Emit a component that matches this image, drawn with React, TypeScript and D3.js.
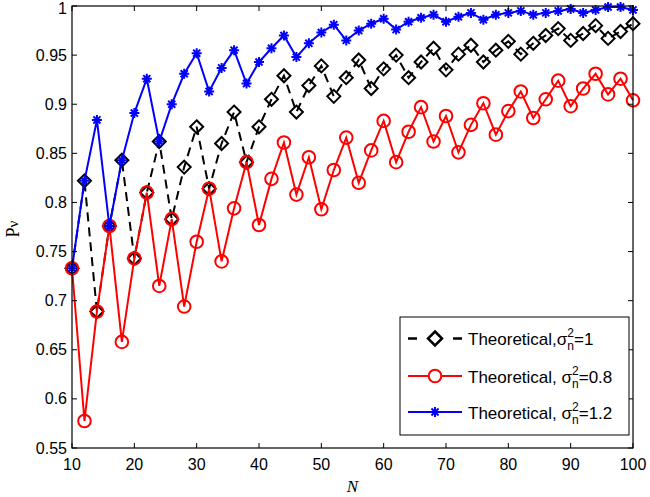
import React from "react";
import * as d3 from "d3";

const nValues = [10,12,14,16,18,20,22,24,26,28,30,32,34,36,38,40,42,44,46,48,50,52,54,56,58,60,62,64,66,68,70,72,74,76,78,80,82,84,86,88,90,92,94,96,98,100];

const blackSeries = [0.733,0.822,0.689,0.776,0.843,0.743,0.810,0.862,0.783,0.836,0.877,0.814,0.860,0.892,0.841,0.877,0.905,0.929,0.892,0.919,0.939,0.908,0.927,0.945,0.916,0.936,0.950,0.927,0.943,0.957,0.935,0.951,0.960,0.943,0.955,0.964,0.951,0.962,0.970,0.977,0.965,0.972,0.980,0.967,0.974,0.982];

const redSeries = [0.733,0.5775,0.689,0.776,0.658,0.743,0.810,0.715,0.783,0.694,0.760,0.814,0.740,0.794,0.841,0.777,0.824,0.861,0.808,0.846,0.793,0.833,0.866,0.820,0.853,0.883,0.841,0.872,0.897,0.862,0.888,0.851,0.879,0.901,0.869,0.893,0.913,0.886,0.905,0.924,0.898,0.916,0.931,0.910,0.926,0.904];

const blueSeries = [0.733,0.822,0.884,0.776,0.843,0.891,0.926,0.862,0.900,0.931,0.952,0.913,0.937,0.955,0.921,0.943,0.957,0.970,0.948,0.962,0.973,0.981,0.965,0.975,0.982,0.987,0.976,0.984,0.988,0.991,0.984,0.989,0.993,0.986,0.991,0.993,0.995,0.991,0.993,0.995,0.997,0.993,0.996,0.999,0.999,0.996];

const xTicks = [10,20,30,40,50,60,70,80,90,100];
const yTicks = [0.55,0.6,0.65,0.7,0.75,0.8,0.85,0.9,0.95,1];
const yTickLabels = ["0.55","0.6","0.65","0.7","0.75","0.8","0.85","0.9","0.95","1"];
const legendLabels = [
  { prefix: "Theoretical,σ", suffix: "=1" },
  { prefix: "Theoretical, σ", suffix: "=0.8" },
  { prefix: "Theoretical, σ", suffix: "=1.2" },
];

const W = 650, H = 497;
const L = 72, R = 633, T = 6, B = 448;

const x = d3.scaleLinear().domain([10, 100]).range([L, R]);
const y = d3.scaleLinear().domain([0.55, 1]).range([B, T]);

function diamond(cx: number, cy: number, r = 6.5) {
  return `M${cx},${cy - r}L${cx + r},${cy}L${cx},${cy + r}L${cx - r},${cy}Z`;
}
function asterisk(cx: number, cy: number, r = 5) {
  const d = r * 0.7071;
  return `M${cx - r},${cy}L${cx + r},${cy}M${cx},${cy - r}L${cx},${cy + r}M${cx - d},${cy - d}L${cx + d},${cy + d}M${cx - d},${cy + d}L${cx + d},${cy - d}`;
}

export default function App() {
  const line = d3.line<number>().x((_, i) => x(nValues[i])).y((v) => y(v));
  const font = "'Liberation Sans', Arial, Helvetica, sans-serif";
  const legX0 = 400, legY0 = 317, legX1 = 629, legY1 = 435;
  const rows = [338.5, 376, 412];
  return (
    <svg width={W} height={H} style={{ position: "absolute", left: 0, top: 0, background: "#fff" }}>
      <rect x={0} y={0} width={W} height={H} fill="#fff" />
      {/* black dashed */}
      <path d={line(blackSeries) || ""} fill="none" stroke="#000" strokeWidth={2} strokeDasharray="9,6" />
      {blackSeries.map((v, i) => (
        <path key={"b" + i} d={diamond(x(nValues[i]), y(v))} fill="none" stroke="#000" strokeWidth={2} />
      ))}
      {/* red */}
      <path d={line(redSeries) || ""} fill="none" stroke="#ff0000" strokeWidth={2} />
      {redSeries.map((v, i) => (
        <circle key={"r" + i} cx={x(nValues[i])} cy={y(v)} r={6.3} fill="none" stroke="#ff0000" strokeWidth={2} />
      ))}
      {/* blue */}
      <path d={line(blueSeries) || ""} fill="none" stroke="#0000ff" strokeWidth={2} />
      {blueSeries.map((v, i) => (
        <path key={"u" + i} d={asterisk(x(nValues[i]), y(v))} fill="none" stroke="#0000ff" strokeWidth={2} />
      ))}

      {/* axes box */}
      <rect x={L} y={T} width={R - L} height={B - T} fill="none" stroke="#000" strokeWidth={1.2} />
      {xTicks.map((t) => (
        <g key={"xt" + t}>
          <line x1={x(t)} x2={x(t)} y1={B} y2={B - 5} stroke="#000" />
          <line x1={x(t)} x2={x(t)} y1={T} y2={T + 5} stroke="#000" />
          <text x={x(t)} y={470} textAnchor="middle" fontFamily={font} fontSize={16}>{t}</text>
        </g>
      ))}
      {yTicks.map((t, i) => (
        <g key={"yt" + t}>
          <line x1={L} x2={L + 5} y1={y(t)} y2={y(t)} stroke="#000" />
          <line x1={R} x2={R - 5} y1={y(t)} y2={y(t)} stroke="#000" />
          <text x={L - 5} y={t === 1 ? 13.5 : y(t) + 5.5} textAnchor="end" fontFamily={font} fontSize={16}>{yTickLabels[i]}</text>
        </g>
      ))}
      <text x={(L + R) / 2} y={492} textAnchor="middle" fontFamily="'Liberation Serif', 'Times New Roman', serif" fontStyle="italic" fontSize={17}>N</text>
      <text transform="translate(19,229) rotate(-90)" textAnchor="middle" fontFamily="'Liberation Serif', 'Times New Roman', serif" fontSize={18}>
        P<tspan fontSize={15} dy={-1}>ν</tspan>
      </text>

      {/* legend */}
      <rect x={legX0} y={legY0} width={legX1 - legX0} height={legY1 - legY0} fill="#fff" stroke="#000" strokeWidth={1} />
      <line x1={408} x2={417} y1={rows[0]} y2={rows[0]} stroke="#000" strokeWidth={2.5} />
      <line x1={453} x2={462} y1={rows[0]} y2={rows[0]} stroke="#000" strokeWidth={2.5} />
      <path d={diamond(435, rows[0], 7)} fill="#fff" stroke="#000" strokeWidth={2.5} />
      <line x1={408} x2={462} y1={rows[1]} y2={rows[1]} stroke="#ff0000" strokeWidth={2} />
      <circle cx={435} cy={rows[1]} r={6.3} fill="#fff" stroke="#ff0000" strokeWidth={2} />
      <line x1={408} x2={462} y1={rows[2]} y2={rows[2]} stroke="#0000ff" strokeWidth={2} />
      <path d={asterisk(435, rows[2])} fill="none" stroke="#0000ff" strokeWidth={2} />
      {legendLabels.map((lab, i) => (
        <text key={"lg" + i} x={468} y={rows[i] + 6.5} fontFamily={font} fontSize={17}>
          {lab.prefix}
          <tspan fontSize={12} dy={-8}>2</tspan>
          <tspan fontSize={12} dx={-6.7} dy={13}>n</tspan>
          <tspan dy={-5}>{lab.suffix}</tspan>
        </text>
      ))}
    </svg>
  );
}
